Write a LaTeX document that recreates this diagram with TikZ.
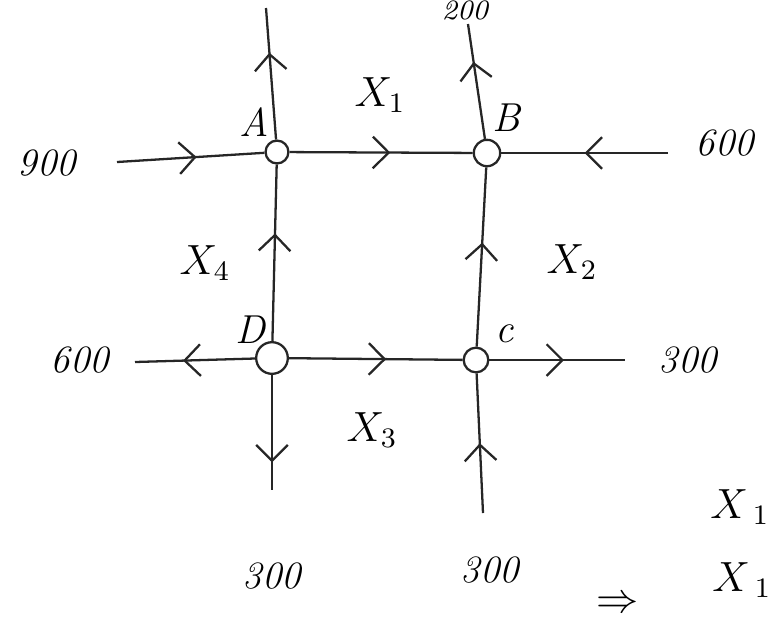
\documentclass[tikz,border=0pt]{standalone}
\usetikzlibrary{arrows.meta,decorations.markings}
\begin{document}
\begin{tikzpicture}[x=0.01cm,y=-0.01cm,
  road/.style={line width=0.65pt, draw=black!85},
  junc/.style={circle, draw=black!85, line width=0.65pt, inner sep=0pt, minimum size=#1},
  lbl/.style={font=\fontsize{11.5}{13}\selectfont\itshape},
  num/.style={font=\fontsize{11}{13}\selectfont\itshape},
  mid/.style={postaction={decorate, decoration={markings,
      mark=at position #1 with {\arrow{Straight Barb[length=4.5pt,width=9pt,line width=0.65pt]}}}}}
]
\useasboundingbox (0,0) rectangle (769,635);
% junctions
\node[junc=6.5pt] (A) at (277,152) {};
\node[junc=7.5pt] (B) at (487,153) {};
\node[junc=9pt] (D) at (272,358) {};
\node[junc=7pt] (C) at (476,360) {};
% free ends
\coordinate (Atop) at (266,8);
\coordinate (Btop) at (468,24);
\coordinate (W1) at (117,162);
\coordinate (E1) at (668,153);
\coordinate (W2) at (135,362);
\coordinate (E2) at (625,360);
\coordinate (Dbot) at (272,490);
\coordinate (Cbot) at (483,513);
% roads
\draw[road, mid=0.66] (A) -- (Atop);
\draw[road, mid=0.67] (B) -- (Btop);
\draw[road, mid=0.54] (W1) -- (A);
\draw[road, mid=0.55] (A) -- (B);
\draw[road, mid=0.5] (E1) -- (B);
\draw[road, mid=0.61] (D) -- (A);
\draw[road, mid=0.58] (C) -- (B);
\draw[road, mid=0.6] (D) -- (W2);
\draw[road, mid=0.56] (D) -- (C);
\draw[road, mid=0.55] (C) -- (E2);
\draw[road, mid=0.76] (D) -- (Dbot);
\draw[road, mid=0.5] (Cbot) -- (C);
% junction labels
\node[lbl] (lA) at (254,122) {A};
\node[lbl] (lB) at (506,118) {B};
\node[lbl] (lD) at (250,330) {D};
\node[lbl] (lC) at (505,334) {c};
% flow variables
\node[lbl] (x1) at (380,95) {$X_1$};
\node[lbl] (x2) at (572,262) {$X_2$};
\node[lbl] (x3) at (372,430) {$X_3$};
\node[lbl] (x4) at (205,263) {$X_4$};
% numbers
\node[num] (n900) at (47,163) {900};
\node[num] (n600a) at (725,143) {600};
\node[num] (n600b) at (80,360) {600};
\node[num] (n300a) at (688,360) {300};
\node[num] (n300b) at (272,576) {300};
\node[num] (n300c) at (490,570) {300};
\node[num, font=\fontsize{8}{9}\selectfont\itshape, anchor=north, inner sep=0pt] (ntop) at (465,0) {200};
% bottom right
\node[lbl] (r1) at (740,507) {$X_{\;1}$};
\node[lbl] (r2) at (742,580) {$X_{\;1}$};
\node[lbl] (impl) at (618,605) {$\Rightarrow$};
\end{tikzpicture}
\end{document}
